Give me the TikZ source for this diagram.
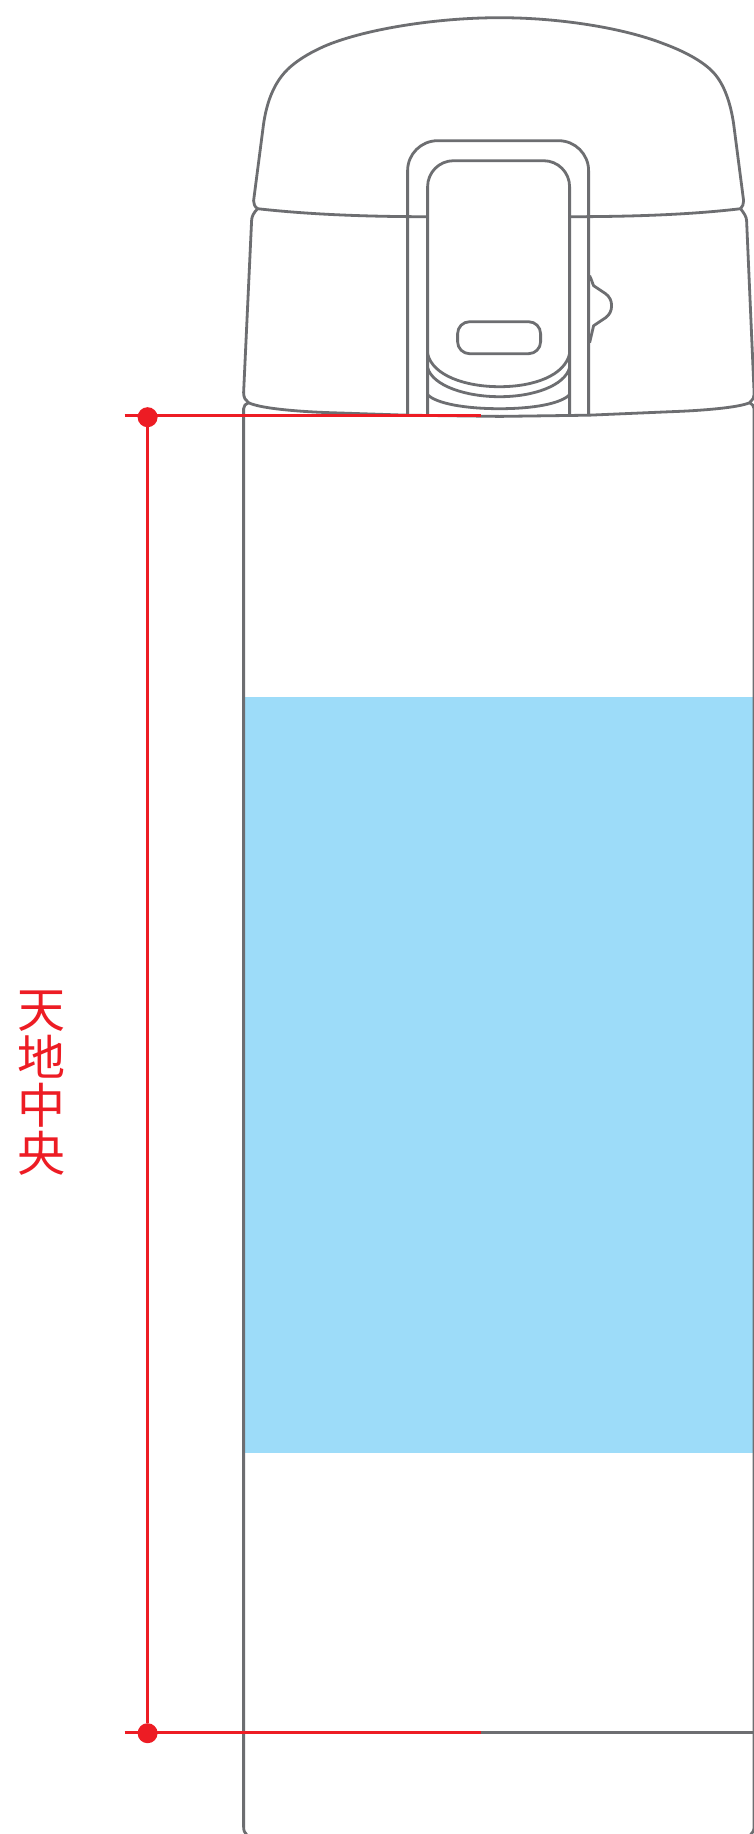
\documentclass[tikz,border=0pt]{standalone}
\usepackage{fontspec}
\newfontfamily\cjk{Noto Sans CJK JP}
\definecolor{outline}{HTML}{6D6E71}
\definecolor{mark}{HTML}{ED1C24}
\definecolor{band}{HTML}{9DDCF9}
\tikzset{
  body line/.style={draw=outline,line width=2.8pt,line join=round},
  mark line/.style={draw=mark,line width=2.6pt},
  mark dot/.style={circle,fill=mark,inner sep=0pt,minimum size=20pt},
  mark text/.style={text=mark,font=\cjk\fontsize{48pt}{48pt}\selectfont,align=center,inner sep=0pt}
}
\begin{document}
\begin{tikzpicture}[x=1pt,y=-1pt]
\useasboundingbox (0,0) rectangle (754,1834);
\fill[white] (0,0) rectangle (754,1834);
% blue band
\fill[band] (243.5,697) rectangle (754,1453);
\begin{scope}[shift={(0.6,0.7)}]
% upper cap
\draw[body line] (257,208) .. controls (254,206) and (253,203) .. (253,200)
  -- (263,123) .. controls (266,103) and (272,86) .. (283,73)
  .. controls (293,61) and (312,50) .. (330,43)
  .. controls (372,27) and (440,17) .. (499,17)
  .. controls (558,17) and (622,27) .. (663,43)
  .. controls (682,50) and (702,60) .. (713,72)
  .. controls (724,84) and (730,103) .. (733,123)
  -- (743,200) .. controls (743,203) and (742,206) .. (740,208);
\draw[body line] (257,208) .. controls (310,214) and (370,216) .. (427,216);
\draw[body line] (740,208) .. controls (690,214) and (630,216) .. (569,216);
% lower cap
\draw[body line] (257,208) .. controls (253,212) and (251,216) .. (251,220)
  -- (243,392) .. controls (243,397) and (245,400) .. (248,402)
  .. controls (260,408) and (300,411) .. (330,412)
  -- (407,414.5) -- (499,415.7) -- (588,414.5) -- (670,411)
  .. controls (700,410) and (738,407) .. (749,402)
  .. controls (752,400) and (753.5,397) .. (753.5,392)
  -- (746,220) .. controls (746,216) and (743,212) .. (740,208);
% button housing
\draw[body line] (407,414) -- (407,170) arc[start angle=180,end angle=270,radius=30]
  -- (558,140) arc[start angle=270,end angle=360,radius=30] -- (588,414);
\draw[body line] (427,414) -- (427,186) arc[start angle=180,end angle=270,radius=26]
  -- (543,160) arc[start angle=270,end angle=360,radius=26] -- (569,414);
% pill
\draw[body line,rounded corners=12pt] (457,321) rectangle (540,353);
% arcs
\draw[body line] (427,353) .. controls (432,375) and (465,386) .. (499,386)
  .. controls (533,386) and (564,375) .. (569,353);
\draw[body line] (427,367) .. controls (432,385) and (465,396) .. (499,396)
  .. controls (533,396) and (564,385) .. (569,367);
\draw[body line] (427,394) .. controls (436,403) and (465,408) .. (499,408)
  .. controls (533,408) and (560,403) .. (569,394);
% latch
\draw[body line] (589,275) .. controls (591,279) and (592,283) .. (593,285)
  -- (605,293) .. controls (609,296) and (611,300) .. (611,305)
  .. controls (611,310) and (609,314) .. (605,317)
  -- (593,325) -- (589,342);
% body
\draw[body line] (248,402) .. controls (245,403) and (243,405) .. (243,408)
  -- (243,1826) .. controls (243,1830) and (244,1832) .. (246,1834);
\draw[body line] (749,402) .. controls (751,403) and (753.5,405) .. (753.5,408) -- (753.5,1826)
  .. controls (753.5,1830) and (752,1832) .. (750,1834);
\draw[body line] (480,1732) -- (753.5,1732);
% red mark
\coordinate (topleft) at (124,415);
\coordinate (topright) at (480,415);
\coordinate (botleft) at (124,1732);
\coordinate (botright) at (480,1732);
\node[mark dot] (topdot) at (147,416.5) {};
\node[mark dot] (botdot) at (147,1732.5) {};
\draw[mark line] (topleft) -- (topright);
\draw[mark line] (botleft) -- (botright);
\draw[mark line] (topdot) -- (botdot);
\end{scope}
\node[mark text] (label) at (41,1083.5) {天\\地\\中\\央};
\end{tikzpicture}
\end{document}
